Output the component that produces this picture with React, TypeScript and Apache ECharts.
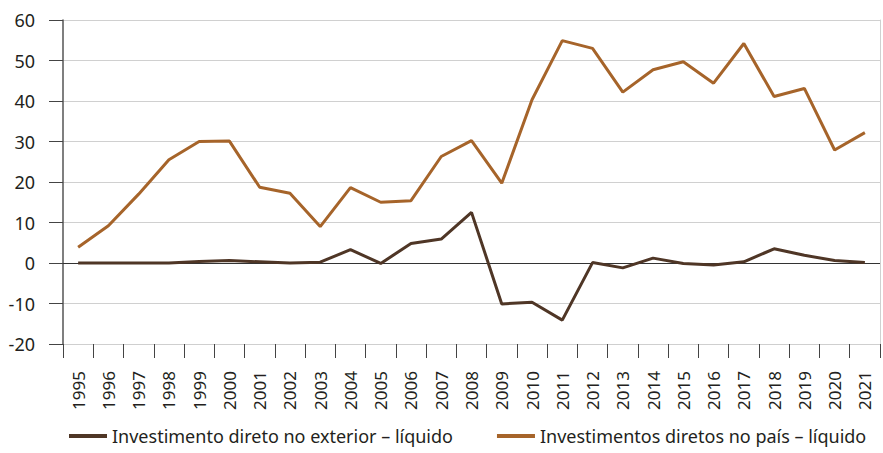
import React, { useEffect, useRef } from "react";
import * as echarts from "echarts";

const years = ["1995","1996","1997","1998","1999","2000","2001","2002","2003","2004","2005","2006","2007","2008","2009","2010","2011","2012","2013","2014","2015","2016","2017","2018","2019","2020","2021"];
const exterior = [0.0, 0.0, 0.0, 0.0, 0.4, 0.6, 0.3, 0.0, 0.2, 3.3, -0.1, 4.8, 5.9, 12.5, -10.1, -9.7, -14.1, 0.1, -1.2, 1.2, -0.1, -0.5, 0.3, 3.5, 1.9, 0.6, 0.1];
const pais = [3.9, 9.2, 17.0, 25.5, 30.0, 30.1, 18.7, 17.2, 9.0, 18.6, 15.0, 15.4, 26.3, 30.2, 19.7, 40.3, 54.9, 53.0, 42.2, 47.7, 49.7, 44.4, 54.2, 41.1, 43.1, 27.9, 32.2];
const seriesNames = ["Investimento direto no exterior – líquido", "Investimentos diretos no país – líquido"];
const yMin = -20;
const yMax = 60;
const yStep = 10;

export default function App() {
  const ref = useRef<HTMLDivElement>(null);
  useEffect(() => {
    if (!ref.current) return;
    const chart = echarts.init(ref.current, null, { renderer: "svg" });
    const font = "'Noto Sans', sans-serif";
    chart.setOption({
      animation: false,
      textStyle: { fontFamily: font },
      grid: { left: 63, right: 3, top: 20, bottom: 109 },
      legend: {
        left: 69,
        top: 425,
        padding: 0,
        itemWidth: 38,
        itemHeight: 4,
        itemGap: 44,
        icon: "rect",
        textStyle: { fontSize: 18, lineHeight: 22, color: "#231f20", fontFamily: font },
        data: seriesNames,
      },
      xAxis: {
        type: "category",
        data: years,
        boundaryGap: true,
        axisLine: { onZero: false, lineStyle: { color: "#cfcfcf", width: 1 } },
        axisTick: { show: true, length: 14, lineStyle: { color: "#444", width: 1 } },
        axisLabel: { rotate: 90, margin: 27, fontSize: 17, color: "#231f20", fontFamily: font },
        splitLine: { show: false },
      },
      yAxis: [
        {
          type: "value",
          min: yMin,
          max: yMax,
          interval: yStep,
          axisLine: { show: true, lineStyle: { color: "#555", width: 1.5 } },
          axisTick: { show: true, length: 14, lineStyle: { color: "#444", width: 1 } },
          axisLabel: { margin: 28, fontSize: 18, color: "#231f20", fontFamily: font },
          splitLine: { show: true, lineStyle: { color: "#d0d0d0", width: 1 } },
        },
        {
          type: "value",
          position: "right",
          min: yMin,
          max: yMax,
          interval: yStep,
          axisLine: { show: true, lineStyle: { color: "#d0d0d0", width: 1 } },
          axisTick: { show: false },
          axisLabel: { show: false },
          splitLine: { show: false },
        },
      ],
      series: [
        {
          name: seriesNames[0],
          type: "line",
          data: exterior,
          symbol: "none",
          itemStyle: { color: "#4f3626" },
          lineStyle: { color: "#4f3626", width: 3 },
          z: 3,
          markLine: {
            silent: true,
            symbol: "none",
            label: { show: false },
            lineStyle: { color: "#333", width: 1, type: "solid" },
            data: [{ yAxis: 0 }],
            z: 1,
          },
        },
        {
          name: seriesNames[1],
          type: "line",
          data: pais,
          symbol: "none",
          itemStyle: { color: "#a6642a" },
          lineStyle: { color: "#a6642a", width: 3 },
          z: 3,
        },
      ],
    });
    return () => chart.dispose();
  }, []);
  return <div ref={ref} style={{ width: 883, height: 453, position: "absolute", left: 0, top: 0 }} />;
}
